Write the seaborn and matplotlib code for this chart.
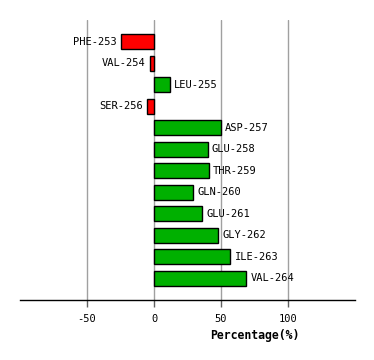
import matplotlib
matplotlib.use("Agg")
import matplotlib.pyplot as plt
import seaborn as sns
import pandas as pd

residues = ["PHE-253", "VAL-254", "LEU-255", "SER-256", "ASP-257", "GLU-258",
            "THR-259", "GLN-260", "GLU-261", "GLY-262", "ILE-263", "VAL-264"]
values = [-25, -3, 12, -5, 50, 40, 41, 29, 36, 48, 57, 69]
xticks = [-50, 0, 50, 100]
xlabel = "Percentage(%)"

sns.set_style("white")
plt.rcParams["font.family"] = ["DejaVu Sans Mono", "DejaVu Sans"]
plt.rcParams["text.color"] = "black"
plt.rcParams["xtick.color"] = "black"
plt.rcParams["axes.labelcolor"] = "black"

df = pd.DataFrame({"residue": residues, "value": values})
df["sign"] = ["neg" if v < 0 else "pos" for v in values]

fig = plt.figure(figsize=(3.74, 3.6), dpi=100)
ax = fig.add_axes([20 / 374, 60 / 360, 335 / 374, 280 / 360])

for x in xticks:
    ax.axvline(x, color="#a0a0a0", lw=1, zorder=0)

sns.barplot(data=df, x="value", y="residue", hue="sign", orient="h",
            palette={"neg": "#ff0000", "pos": "#00b000"}, width=0.7,
            saturation=1, edgecolor="black", linewidth=1, legend=False,
            ax=ax, zorder=2)

for i, (r, v) in enumerate(zip(residues, values)):
    if v < 0:
        ax.annotate(r, (v, i), xytext=(-3, 0), textcoords="offset points",
                    ha="right", va="center", fontsize=7.5, color="black")
    else:
        ax.annotate(r, (v, i), xytext=(3, 0), textcoords="offset points",
                    ha="left", va="center", fontsize=7.5, color="black")

ax.set_xlim(-100, 150)
ax.set_ylim(12.02, -1.02)
ax.set_xticks(xticks)
ax.set_xticklabels([str(t) for t in xticks], fontsize=7.5, color="black")
ax.set_yticks([])
ax.set_ylabel("")
ax.set_xlabel(xlabel, fontsize=8.3, fontweight="bold", color="black")
ax.xaxis.set_label_coords(0.70, -0.105)
ax.tick_params(axis="x", length=5, width=1, color="#606060", pad=5, bottom=True)
for s in ["left", "right", "top"]:
    ax.spines[s].set_visible(False)
ax.spines["bottom"].set_color("black")
ax.spines["bottom"].set_linewidth(1)

fig.savefig("out.png", dpi=100)
